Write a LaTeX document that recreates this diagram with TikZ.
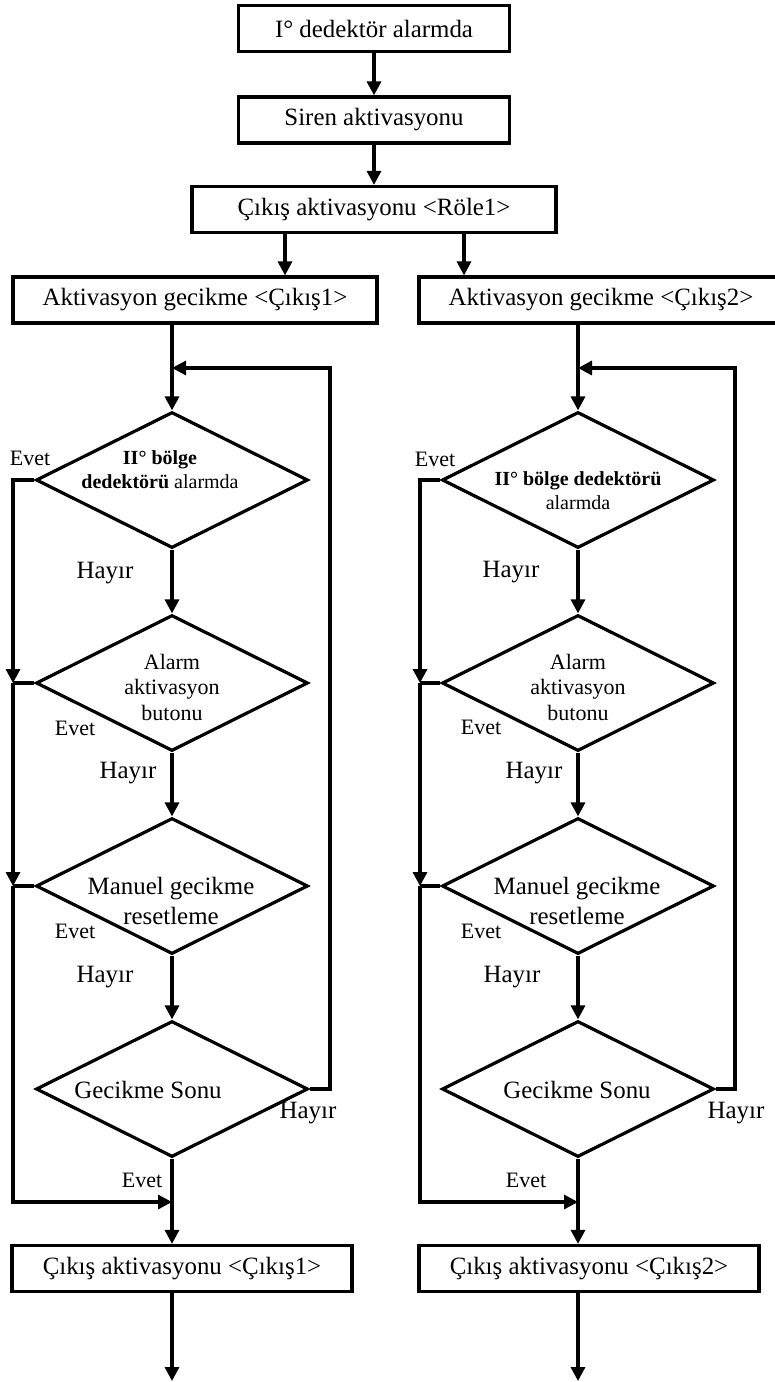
\documentclass[tikz,border=0pt]{standalone}
\usepackage{fontspec}
\setmainfont{Liberation Serif}
\usetikzlibrary{shapes.geometric, arrows.meta}

\tikzset{
  kutu/.style={draw, line width=1.6pt, minimum height=23pt, inner sep=0pt,
    font=\fontsize{12.45}{15}\selectfont},
  karar/.style={draw, diamond, line width=1.6pt, minimum width=136pt,
    minimum height=68pt, inner sep=0pt},
  yazi/.style={align=center, inner sep=0pt, font=\fontsize{12.45}{15}\selectfont},
  kucukyazi/.style={yazi, font=\fontsize{11}{12.75}\selectfont},
  ok/.style={line width=1.6pt, -{Triangle[length=7pt,width=7pt]}},
  hat/.style={line width=1.6pt},
}

\begin{document}
\begin{tikzpicture}[x=0.5pt, y=-0.5pt]
    \useasboundingbox (0,0) rectangle (775,1382);

    % üst kutular
    \node[kutu, minimum width=135.5pt] (b1) at (374,28.5) {I° dedektör alarmda};
    \node[kutu, minimum width=135.5pt] (b2) at (374,120) {Siren aktivasyonu};
    \node[kutu, minimum width=182pt] (b3) at (374,209.5) {Çıkış aktivasyonu <Röle1>};
    \draw[ok] (b1) -- (b2);
    \draw[ok] (b2) -- (b3);

    % gecikme kutuları
    \node[kutu, minimum width=182pt] (g1) at (195,300) {Aktivasyon gecikme <Çıkış1>};
    \node[kutu, minimum width=182pt] (g2) at (601,300) {Aktivasyon gecikme <Çıkış2>};
    \draw[ok] (285,0 |- b3.south) -- (285,0 |- g1.north);
    \draw[ok] (464,0 |- b3.south) -- (464,0 |- g2.north);

    % sol sütun: karar kutuları
    \node[karar] (k1a) at (172,480) {};
    \node[karar] (k2a) at (172,683) {};
    \node[karar] (k3a) at (172,886) {};
    \node[karar] (k4a) at (172,1089) {};
    \node[yazi, font=\fontsize{10}{12}\selectfont] (y1a) at (160,470)
        {\textbf{II° bölge}\\\textbf{dedektörü} alarmda};
    \node[kucukyazi] (y2a) at (172,687) {Alarm\\aktivasyon\\butonu};
    \node[yazi] (y3a) at (171,901) {Manuel gecikme\\resetleme};
    \node[yazi] (y4a) at (148,1090) {Gecikme Sonu};
    \node[kutu, minimum width=170pt] (c1) at (182,1268.5) {Çıkış aktivasyonu <Çıkış1>};

    % sol sütun: dönüş ve atlama noktaları
    \coordinate (da1) at (330,368);
    \coordinate (da2) at (172,368);
    \coordinate (ya2) at (13,683);
    \coordinate (ya3) at (13,886);
    \coordinate (ya4) at (13,1202);
    \coordinate (ya5) at (172,1202);
    \coordinate (sa) at (172,1381);

    \draw[ok] (k1a.north |- g1.south) -- (k1a.north);
    \draw[ok] (k1a) -- (k2a);
    \draw[ok] (k2a) -- (k3a);
    \draw[ok] (k3a) -- (k4a);
    \draw[ok] (k4a.south) -- (k4a.south |- c1.north);
    \draw[ok] (k4a.south |- c1.south) -- (sa);
    \draw[ok] (k4a.east) -| (da1) -- (da2);
    \draw[ok] (k1a.west) -| (ya2);
    \draw[hat] (k2a.west) -- (ya2);
    \draw[ok] (ya2) -- (ya3);
    \draw[hat] (k3a.west) -- (ya3);
    \draw[ok] (ya3) -- (ya4) -- (ya5);

    % sol sütun: etiketler
    \node[kucukyazi] (e1a) at (30,458) {Evet};
    \node[yazi] (h1a) at (105,573) {Hayır};
    \node[kucukyazi] (e2a) at (75,728) {Evet};
    \node[yazi] (h2a) at (128,773) {Hayır};
    \node[kucukyazi] (e3a) at (75,931) {Evet};
    \node[yazi] (h3a) at (105,977) {Hayır};
    \node[yazi] (h4a) at (308,1113) {Hayır};
    \node[kucukyazi] (e4a) at (142,1180) {Evet};

    % sağ sütun: karar kutuları
    \node[karar] (k1b) at (578,480) {};
    \node[karar] (k2b) at (578,683) {};
    \node[karar] (k3b) at (578,886) {};
    \node[karar] (k4b) at (578,1089) {};
    \node[yazi, font=\fontsize{10}{12}\selectfont] (y1b) at (578,491)
        {\textbf{II° bölge dedektörü}\\alarmda};
    \node[kucukyazi] (y2b) at (578,687) {Alarm\\aktivasyon\\butonu};
    \node[yazi] (y3b) at (577,901) {Manuel gecikme\\resetleme};
    \node[yazi] (y4b) at (577,1090) {Gecikme Sonu};
    \node[kutu, minimum width=170pt] (c2) at (589,1268.5) {Çıkış aktivasyonu <Çıkış2>};

    % sağ sütun: dönüş ve atlama noktaları
    \coordinate (db1) at (735,368);
    \coordinate (db2) at (578,368);
    \coordinate (yb2) at (420,683);
    \coordinate (yb3) at (420,886);
    \coordinate (yb4) at (420,1202);
    \coordinate (yb5) at (578,1202);
    \coordinate (sb) at (578,1381);

    \draw[ok] (k1b.north |- g2.south) -- (k1b.north);
    \draw[ok] (k1b) -- (k2b);
    \draw[ok] (k2b) -- (k3b);
    \draw[ok] (k3b) -- (k4b);
    \draw[ok] (k4b.south) -- (k4b.south |- c2.north);
    \draw[ok] (k4b.south |- c2.south) -- (sb);
    \draw[ok] (k4b.east) -| (db1) -- (db2);
    \draw[ok] (k1b.west) -| (yb2);
    \draw[hat] (k2b.west) -- (yb2);
    \draw[ok] (yb2) -- (yb3);
    \draw[hat] (k3b.west) -- (yb3);
    \draw[ok] (yb3) -- (yb4) -- (yb5);

    % sağ sütun: etiketler
    \node[kucukyazi] (e1b) at (435,459) {Evet};
    \node[yazi] (h1b) at (511,572) {Hayır};
    \node[kucukyazi] (e2b) at (481,727) {Evet};
    \node[yazi] (h2b) at (534,773) {Hayır};
    \node[kucukyazi] (e3b) at (481,931) {Evet};
    \node[yazi] (h3b) at (512,977) {Hayır};
    \node[yazi] (h4b) at (736,1113) {Hayır};
    \node[kucukyazi] (e4b) at (526,1180) {Evet};
\end{tikzpicture}
\end{document}
